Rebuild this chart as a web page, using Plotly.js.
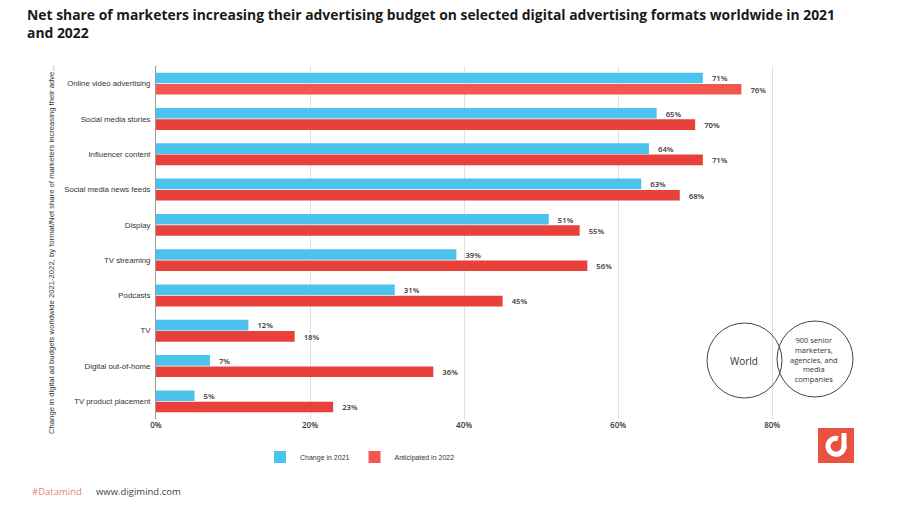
<!DOCTYPE html>
<html>
<head>
<meta charset="utf-8">
<script src="https://cdn.plot.ly/plotly-3.0.1.min.js"></script>
<style>
  html, body { margin: 0; padding: 0; background: #fff; }
  #wrap { position: relative; width: 910px; height: 511px; }
  #chart { width: 910px; height: 511px; }
  #logo { position: absolute; left: 818px; top: 428px; }
</style>
</head>
<body>
<div id="wrap">
  <div id="chart"></div>
  <svg id="logo" width="36" height="35" viewBox="0 0 36 35">
    <rect x="0" y="0" width="36" height="35" fill="#E9523F"/>
    <path d="M 20 10.5 A 8 8 0 1 0 26 17.5" fill="none" stroke="#fff" stroke-width="5"/>
    <rect x="23.5" y="5" width="5" height="16" fill="#fff"/>
  </svg>
</div>
<script>
const categories = [
  "Online video advertising",
  "Social media stories",
  "Influencer content",
  "Social media news feeds",
  "Display",
  "TV streaming",
  "Podcasts",
  "TV",
  "Digital out-of-home",
  "TV product placement"
];
const change2021 = [71, 65, 64, 63, 51, 39, 31, 12, 7, 5];
const anticipated2022 = [76, 70, 71, 68, 55, 56, 45, 18, 36, 23];
const seriesNames = ["Change in 2021", "Anticipated in 2022"];
const xTicks = [0, 20, 40, 60, 80];

const blue = "#4CC3EC";
const red = "#E8403A";
const redColors = anticipated2022.map((v, i) => i === 0 ? "#F2584F" : red);

const labelFont = { family: "Open Sans, sans-serif", size: 8, color: "#333", weight: 600 };
const pad = "\u00a0\u00a0\u00a0";

const traces = [
  {
    type: "bar", orientation: "h", name: seriesNames[0],
    y: categories, x: change2021,
    marker: { color: blue },
    text: change2021.map(v => pad + v + "%"),
    textposition: "outside", textfont: labelFont, cliponaxis: false,
    hoverinfo: "none"
  },
  {
    type: "bar", orientation: "h", name: seriesNames[1],
    y: categories, x: anticipated2022,
    marker: { color: redColors },
    text: anticipated2022.map(v => pad + v + "%"),
    textposition: "outside", textfont: labelFont, cliponaxis: false,
    hoverinfo: "none"
  }
];

// plot area in pixels
const L = 156, R = 107, T = 66, B = 92;
const W = 910 - L - R, H = 511 - T - B;
const px = x => (x - L) / W;
const py = y => (511 - B - y) / H;

const layout = {
  width: 910, height: 511,
  margin: { l: L, r: R, t: T, b: B, pad: 0 },
  paper_bgcolor: "#fff", plot_bgcolor: "#fff",
  barmode: "group", bargap: 0.36, bargroupgap: 0.06,
  showlegend: true,
  font: { family: "Liberation Sans, Arial, sans-serif", color: "#333" },
  title: {
    text: "<b>Net share of marketers increasing their advertising budget on selected digital advertising formats worldwide in 2021<br>and 2022</b>",
    font: { family: "Open Sans, sans-serif", size: 13.9, color: "#1a1a1a" },
    x: 27 / 910, xanchor: "left", xref: "container",
    y: 1 - 20 / 511, yanchor: "top", yref: "container"
  },
  xaxis: {
    range: [0, 84],
    tickvals: xTicks, ticktext: xTicks.map(v => v + "%"),
    showgrid: true, gridcolor: "#e0e0e0", gridwidth: 1,
    zeroline: false, showline: false, ticks: "",
    tickfont: { family: "Open Sans, sans-serif", size: 8, color: "#333", weight: 600 },
    fixedrange: true
  },
  yaxis: {
    type: "category", autorange: "reversed",
    showline: true, linecolor: "#999", linewidth: 1,
    showgrid: false, zeroline: false, ticks: "",
    ticklabelstandoff: 3,
    tickfont: { family: "Liberation Sans, Arial, sans-serif", size: 7.8, color: "#333" },
    fixedrange: true
  },
  legend: {
    orientation: "h", x: px(360), xanchor: "center", y: py(457), yanchor: "middle",
    font: { family: "Liberation Sans, Arial, sans-serif", size: 7, color: "#333" },
    itemwidth: 30, traceorder: "normal"
  },
  shapes: [
    { type: "circle", xref: "paper", yref: "paper",
      x0: px(707), x1: px(782), y0: py(398), y1: py(323),
      line: { color: "#444", width: 1 }, fillcolor: "rgba(0,0,0,0)" },
    { type: "circle", xref: "paper", yref: "paper",
      x0: px(777), x1: px(853), y0: py(397), y1: py(321),
      line: { color: "#444", width: 1 }, fillcolor: "rgba(0,0,0,0)" }
  ],
  annotations: [
    { xref: "paper", yref: "paper", x: px(51), y: py(250), textangle: -90,
      text: "Change in digital ad budgets worldwide 2021-2022, by format/Net share of marketers increasing their adve...",
      showarrow: false, xanchor: "center", yanchor: "middle",
      font: { family: "Liberation Sans, Arial, sans-serif", size: 7.7, color: "#333" } },
    { xref: "paper", yref: "paper", x: px(744), y: py(361),
      text: "World", showarrow: false, xanchor: "center", yanchor: "middle",
      font: { family: "Open Sans, sans-serif", size: 10, color: "#333" } },
    { xref: "paper", yref: "paper", x: px(814), y: py(359),
      text: "900 senior<br>marketers,<br>agencies, and<br>media<br>companies", showarrow: false,
      xanchor: "center", yanchor: "middle", align: "center",
      font: { family: "Open Sans, sans-serif", size: 7.5, color: "#333" } },
    { xref: "paper", yref: "paper", x: px(30), y: py(491), xanchor: "left", yanchor: "middle",
      text: "#Datamind", showarrow: false,
      font: { family: "Open Sans, sans-serif", size: 9.5, color: "#E8807A" } },
    { xref: "paper", yref: "paper", x: px(94), y: py(491), xanchor: "left", yanchor: "middle",
      text: "www.digimind.com", showarrow: false,
      font: { family: "Open Sans, sans-serif", size: 9.5, color: "#444" } }
  ]
};

Plotly.newPlot("chart", traces, layout, { displayModeBar: false, staticPlot: true });
</script>
</body>
</html>
